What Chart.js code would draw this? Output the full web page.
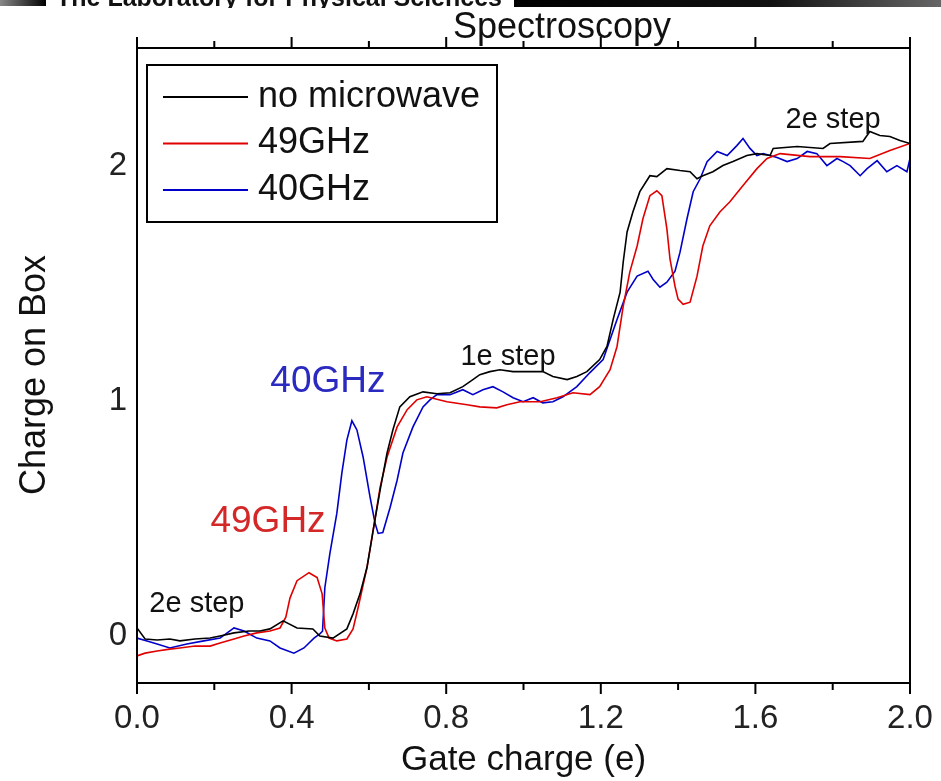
<!DOCTYPE html>
<html>
<head>
<meta charset="utf-8">
<script src="https://cdn.jsdelivr.net/npm/chart.js@4.4.1/dist/chart.umd.min.js"></script>
<style>
  body { margin: 0; background: #fff; }
  #wrap { position: relative; width: 941px; height: 781px; }
  #banner { position: absolute; left: 0; top: 0; width: 941px; height: 8px; overflow: hidden; }
  #banner .l { position: absolute; left: 0; top: 0; width: 46px; height: 6px; background: linear-gradient(to right, #888, #000); }
  #banner .r { position: absolute; left: 514px; top: 0; width: 427px; height: 7px; background: linear-gradient(to right, #000, #111 60%, #666); }
  #banner span { position: absolute; left: 56px; top: -17px; font: bold 25px 'Liberation Sans', Arial, sans-serif; color: #111; white-space: nowrap; }
</style>
</head>
<body>
<div id="wrap">
  <canvas id="chart" width="941" height="781"></canvas>
  <div id="banner"><div class="l"></div><span>The Laboratory for Physical Sciences</span><div class="r"></div></div>
</div>
<script>
// gate charge (e) vs charge on box
const noMicrowave = [[0.000,0.034],[0.021,-0.013],[0.052,-0.017],[0.085,-0.013],[0.111,-0.021],[0.150,-0.013],[0.189,-0.009],[0.215,0.000],[0.251,0.013],[0.290,0.021],[0.318,0.021],[0.344,0.030],[0.378,0.064],[0.414,0.034],[0.455,0.030],[0.473,0.000],[0.507,-0.009],[0.543,0.030],[0.559,0.094],[0.577,0.179],[0.595,0.291],[0.611,0.449],[0.629,0.620],[0.647,0.778],[0.662,0.876],[0.680,0.974],[0.706,1.017],[0.740,1.038],[0.776,1.030],[0.810,1.034],[0.843,1.060],[0.869,1.090],[0.887,1.111],[0.913,1.124],[0.939,1.132],[0.973,1.124],[1.009,1.124],[1.050,1.124],[1.076,1.103],[1.113,1.090],[1.138,1.103],[1.164,1.124],[1.197,1.175],[1.216,1.231],[1.232,1.346],[1.250,1.462],[1.258,1.590],[1.268,1.718],[1.283,1.803],[1.301,1.889],[1.327,1.957],[1.345,1.953],[1.371,1.987],[1.405,1.979],[1.431,1.974],[1.449,1.944],[1.464,1.957],[1.490,1.974],[1.516,2.000],[1.542,2.017],[1.578,2.043],[1.604,2.051],[1.638,2.043],[1.646,2.073],[1.708,2.081],[1.775,2.073],[1.793,2.094],[1.878,2.103],[1.896,2.145],[1.922,2.128],[1.948,2.124],[1.974,2.107],[2.000,2.094]];

const ghz49 = [[0.000,-0.085],[0.021,-0.073],[0.052,-0.064],[0.085,-0.056],[0.111,-0.051],[0.150,-0.043],[0.189,-0.043],[0.215,-0.030],[0.251,-0.013],[0.277,0.000],[0.310,0.013],[0.344,0.021],[0.370,0.034],[0.385,0.080],[0.396,0.162],[0.414,0.235],[0.445,0.269],[0.466,0.248],[0.479,0.179],[0.486,0.034],[0.497,-0.009],[0.517,-0.021],[0.543,-0.013],[0.559,0.030],[0.572,0.120],[0.595,0.291],[0.611,0.449],[0.629,0.632],[0.647,0.761],[0.673,0.889],[0.699,0.962],[0.724,1.004],[0.750,1.017],[0.802,0.996],[0.854,0.983],[0.887,0.974],[0.931,0.970],[0.957,0.983],[0.991,0.996],[1.043,0.996],[1.087,1.013],[1.128,1.034],[1.172,1.026],[1.197,1.060],[1.224,1.132],[1.242,1.231],[1.258,1.402],[1.275,1.547],[1.294,1.658],[1.309,1.774],[1.327,1.872],[1.345,1.893],[1.358,1.872],[1.371,1.731],[1.379,1.603],[1.392,1.487],[1.400,1.432],[1.413,1.410],[1.431,1.419],[1.449,1.530],[1.464,1.658],[1.482,1.744],[1.508,1.803],[1.534,1.846],[1.568,1.915],[1.604,1.987],[1.630,2.030],[1.664,2.051],[1.741,2.038],[1.819,2.038],[1.896,2.030],[1.948,2.064],[2.000,2.094]];

const ghz40 = [[0.000,-0.009],[0.026,-0.021],[0.052,-0.034],[0.085,-0.051],[0.129,-0.034],[0.173,-0.021],[0.215,-0.009],[0.251,0.034],[0.277,0.021],[0.310,-0.009],[0.344,-0.021],[0.370,-0.051],[0.406,-0.073],[0.432,-0.051],[0.458,-0.009],[0.473,0.009],[0.480,0.020],[0.486,0.205],[0.499,0.350],[0.517,0.521],[0.530,0.692],[0.543,0.833],[0.556,0.915],[0.569,0.876],[0.585,0.761],[0.603,0.590],[0.616,0.479],[0.624,0.436],[0.636,0.440],[0.655,0.547],[0.673,0.662],[0.688,0.778],[0.714,0.889],[0.740,0.974],[0.758,1.004],[0.776,1.026],[0.810,1.026],[0.843,1.047],[0.869,1.026],[0.895,1.047],[0.921,1.060],[0.947,1.038],[0.973,1.013],[0.999,0.996],[1.025,1.013],[1.050,0.991],[1.076,0.996],[1.102,1.017],[1.138,1.060],[1.172,1.120],[1.206,1.175],[1.242,1.346],[1.268,1.462],[1.294,1.530],[1.322,1.551],[1.335,1.517],[1.353,1.483],[1.371,1.504],[1.392,1.551],[1.405,1.632],[1.423,1.774],[1.439,1.889],[1.457,1.944],[1.475,2.017],[1.501,2.060],[1.527,2.043],[1.552,2.085],[1.568,2.115],[1.586,2.073],[1.604,2.043],[1.620,2.051],[1.656,2.034],[1.682,2.017],[1.708,2.030],[1.734,2.060],[1.759,2.051],[1.785,2.000],[1.811,2.030],[1.827,2.017],[1.845,2.000],[1.871,1.957],[1.889,1.987],[1.915,2.021],[1.940,1.974],[1.966,2.000],[1.992,1.974],[2.000,2.030]];

const seriesNames = ['no microwave', '49GHz', '40GHz'];
const seriesColors = ['#000000', '#e00000', '#0000c8'];
const xMajorTicks = [0, 0.4, 0.8, 1.2, 1.6, 2.0];
const xMinorTicks = [0.2, 0.6, 1.0, 1.4, 1.8];
const yTicks = [0, 1, 2];

// text notes on the plot: label, gate charge, charge, colour, size
const noteText = ['40GHz', '49GHz', '2e step', '1e step', '2e step'];
const noteX = [0.494, 0.339, 0.155, 0.960, 1.801];
const noteY = [1.08, 0.485, 0.136, 1.186, 2.194];
const noteColor = ['#2a2ac0', '#d42828', '#111', '#111', '#111'];
const noteSize = [37, 37, 29, 29, 29];

const FONT = "'Liberation Sans', Arial, sans-serif";

function txt(ctx, s, x, y, size, color, align) {
    ctx.font = size + 'px ' + FONT;
    ctx.fillStyle = color;
    ctx.textAlign = align || 'center';
    ctx.textBaseline = 'middle';
    ctx.fillText(s, x, y);
}

const decor = {
    id: 'decor',
    afterDraw(chart) {
        const { ctx, chartArea: a, scales: { x, y } } = chart;
        ctx.save();
        ctx.strokeStyle = '#000';
        ctx.lineWidth = 2;
        ctx.strokeRect(a.left, a.top, a.right - a.left, a.bottom - a.top);

        // tick marks top and bottom
        ctx.beginPath();
        xMajorTicks.forEach(v => {
            const p = x.getPixelForValue(v);
            ctx.moveTo(p, a.bottom); ctx.lineTo(p, a.bottom + 11);
            ctx.moveTo(p, a.top); ctx.lineTo(p, a.top - 11);
        });
        xMinorTicks.forEach(v => {
            const p = x.getPixelForValue(v);
            ctx.moveTo(p, a.bottom); ctx.lineTo(p, a.bottom + 7);
            ctx.moveTo(p, a.top); ctx.lineTo(p, a.top - 7);
        });
        ctx.stroke();

        // titles
        txt(ctx, 'Spectroscopy', 562, 28, 36, '#111');
        txt(ctx, 'Gate charge (e)', (a.left + a.right) / 2, 760, 35, '#111');
        ctx.save();
        ctx.translate(35, 375);
        ctx.rotate(-Math.PI / 2);
        txt(ctx, 'Charge on Box', 0, 0, 36, '#111');
        ctx.restore();

        // notes
        noteText.forEach((s, i) => {
            txt(ctx, s, x.getPixelForValue(noteX[i]), y.getPixelForValue(noteY[i]), noteSize[i], noteColor[i]);
        });

        // legend box
        const bx = a.left + 10, by = a.top + 17;
        ctx.lineWidth = 2;
        ctx.strokeStyle = '#000';
        ctx.strokeRect(bx, by, 350, 157);
        seriesNames.forEach((name, i) => {
            const ly = by + 32 + i * 46.5;
            ctx.strokeStyle = seriesColors[i];
            ctx.lineWidth = 2;
            ctx.beginPath();
            ctx.moveTo(bx + 16, ly);
            ctx.lineTo(bx + 101, ly);
            ctx.stroke();
            txt(ctx, name, bx + 111, ly, 36, '#111', 'left');
        });
        ctx.restore();
    }
};

const toPoints = arr => arr.map(p => ({ x: p[0], y: p[1] }));

new Chart(document.getElementById('chart').getContext('2d'), {
    type: 'line',
    data: {
        datasets: [noMicrowave, ghz49, ghz40].map((d, i) => ({
            label: seriesNames[i],
            data: toPoints(d),
            borderColor: seriesColors[i],
            borderWidth: 1.6,
            pointRadius: 0,
            tension: 0,
            fill: false
        }))
    },
    options: {
        responsive: false,
        animation: false,
        layout: { padding: { top: 48, right: 31, left: 0, bottom: 0 } },
        plugins: {
            legend: { display: false },
            title: { display: false },
            tooltip: { enabled: false }
        },
        scales: {
            x: {
                type: 'linear',
                min: 0,
                max: 2,
                afterBuildTicks: s => { s.ticks = xMajorTicks.map(v => ({ value: v })); },
                afterFit: s => { s.height = 98; s.paddingRight = 0; s.paddingLeft = 0; },
                grid: { display: false, drawTicks: false },
                border: { display: false },
                ticks: {
                    autoSkip: false,
                    maxRotation: 0,
                    padding: 16,
                    color: '#222',
                    font: { family: FONT, size: 33 },
                    callback: v => v.toFixed(1)
                }
            },
            y: {
                type: 'linear',
                min: -0.2,
                max: 2.5,
                afterBuildTicks: s => { s.ticks = yTicks.map(v => ({ value: v })); },
                afterFit: s => { s.width = 137; s.paddingTop = 0; s.paddingBottom = 0; },
                grid: { display: false, drawTicks: false },
                border: { display: false },
                ticks: {
                    padding: 10,
                    color: '#222',
                    font: { family: FONT, size: 33 },
                    callback: v => String(v)
                }
            }
        }
    },
    plugins: [decor]
});
</script>
</body>
</html>
